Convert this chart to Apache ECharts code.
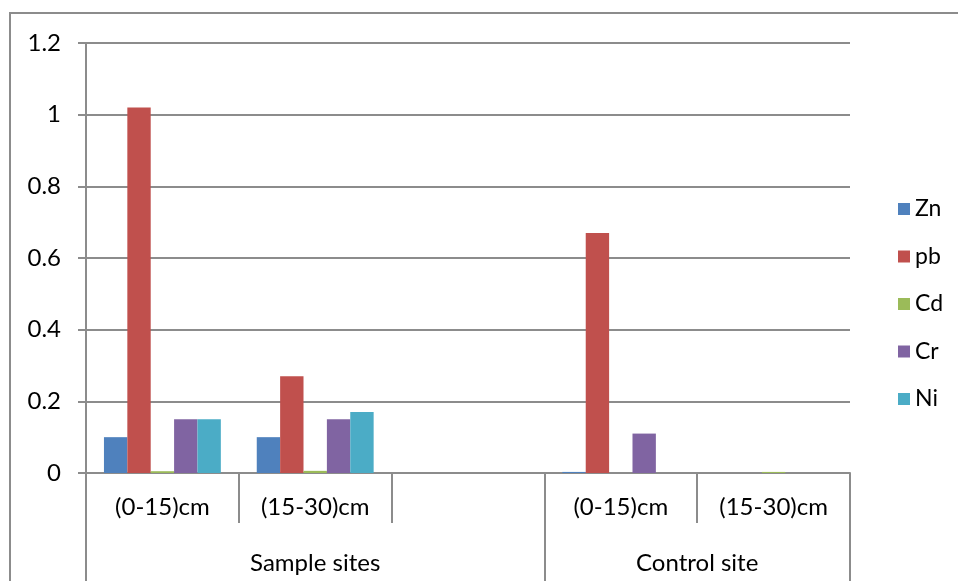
<!DOCTYPE html>
<html>
<head>
<meta charset="utf-8">
<script src="https://cdn.jsdelivr.net/npm/echarts@6/dist/echarts.min.js"></script>
<style>
  html, body { margin: 0; padding: 0; background: #fff; overflow: hidden; }
  #wrap { position: relative; width: 958px; height: 581px; overflow: hidden; }
  #frame { position: absolute; left: 9px; top: 12px; width: 1000px; height: 1000px;
           border: 2px solid #8c8c8c; box-sizing: border-box; }
  #chart { position: absolute; left: 0; top: 0; width: 958px; height: 581px; }
</style>
</head>
<body>
<div id="wrap">
  <div id="frame"></div>
  <div id="chart"></div>
</div>
<script>
// Depth classes (first axis level) and site groups (second level)
var depthLabels = ['(0-15)cm', '(15-30)cm', '', '(0-15)cm', '(15-30)cm'];
var siteGroups = ['Sample sites', 'Control site'];
var siteBounds = [0, 3, 5];        // group edges, in category units
var siteCentres = [1.5, 4];        // where each group name sits

// Metal concentrations per depth class
var metals = ['Zn', 'pb', 'Cd', 'Cr', 'Ni'];
var zn = [0.10, 0.10, null, 0.003, 0];
var pb = [1.02, 0.27, null, 0.67, 0];
var cd = [0.005, 0.006, null, 0, 0.003];
var cr = [0.15, 0.15, null, 0.11, 0];
var ni = [0.15, 0.17, null, 0, 0];
var values = [zn, pb, cd, cr, ni];
var colors = ['#4F81BD', '#C0504D', '#9BBB59', '#8064A2', '#4BACC6'];

var yTicks = [0, 0.2, 0.4, 0.6, 0.8, 1, 1.2];

var FONT = 'Lato';
var LINE = '#8c8c8c';
var FS = 24;

var chart = echarts.init(document.getElementById('chart'));
chart.setOption({
  animation: false,
  textStyle: { fontFamily: FONT },
  grid: { left: 86, right: 108, top: 43, bottom: 108, containLabel: false },
  legend: {
    orient: 'vertical',
    left: 893,
    top: 192,
    icon: 'rect',
    itemWidth: 12,
    itemHeight: 12,
    itemGap: 23.5,
    data: metals,
    textStyle: { fontFamily: FONT, fontSize: 23, color: '#000', lineHeight: 22, padding: [2, 0, 0, 0] }
  },
  xAxis: [
    {
      type: 'category',
      data: depthLabels,
      position: 'bottom',
      axisLine: { lineStyle: { color: LINE, width: 2 } },
      axisTick: { show: true, interval: 0, length: 50, lineStyle: { color: LINE, width: 2 } },
      axisLabel: { interval: 0, margin: 22, fontSize: FS, color: '#000', fontFamily: FONT }
    },
    {
      type: 'value',
      min: 0,
      max: 5,
      position: 'bottom',
      axisLine: { show: false },
      splitLine: { show: false },
      axisTick: { show: true, length: 108, customValues: siteBounds, lineStyle: { color: LINE, width: 2 } },
      axisLabel: {
        customValues: siteCentres,
        margin: 78,
        fontSize: FS,
        color: '#000',
        fontFamily: FONT,
        formatter: function (v) { return siteGroups[siteCentres.indexOf(v)]; }
      }
    }
  ],
  yAxis: {
    type: 'value',
    min: 0,
    max: 1.2,
    interval: 0.2,
    axisLine: { show: true, lineStyle: { color: LINE, width: 2 } },
    axisTick: { show: true, length: 8, lineStyle: { color: LINE, width: 2 } },
    splitLine: { show: true, lineStyle: { color: LINE, width: 2 } },
    axisLabel: {
      margin: 25,
      fontSize: FS,
      color: '#000',
      fontFamily: FONT,
      formatter: function (v) {
        var t = yTicks.find(function (k) { return Math.abs(k - v) < 1e-9; });
        return t === undefined ? '' : String(Math.round(t * 10) / 10);
      }
    }
  },
  series: metals.map(function (name, i) {
    return {
      name: name,
      type: 'bar',
      xAxisIndex: 0,
      data: values[i],
      barGap: '0%',
      barCategoryGap: '23.5%',
      itemStyle: { color: colors[i] }
    };
  })
});
</script>
</body>
</html>
